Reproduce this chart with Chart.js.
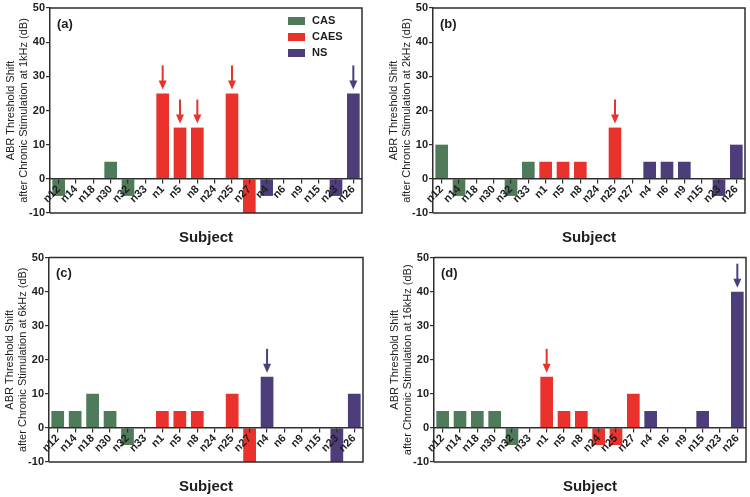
<!DOCTYPE html>
<html lang="en">
<head>
<meta charset="UTF-8">
<title>ABR Threshold Shift after Chronic Stimulation</title>
<script src="https://cdn.jsdelivr.net/npm/chart.js"></script>
<style>
    body { margin: 0; background: #fff; }
    .wrap { position: relative; width: 750px; height: 497px; }
    canvas { position: absolute; }
</style>
</head>
<body>
<div class="wrap">
    <canvas id="panelA" width="375" height="250" style="left:0;top:0"></canvas>
    <canvas id="panelB" width="375" height="250" style="left:375px;top:0"></canvas>
    <canvas id="panelC" width="375" height="247" style="left:0;top:250px"></canvas>
    <canvas id="panelD" width="375" height="247" style="left:375px;top:250px"></canvas>
</div>

<script>
// subjects and their group
const subjects = ['n12', 'n14', 'n18', 'n30', 'n32', 'n33', 'n1', 'n5', 'n8', 'n24', 'n25', 'n27', 'n4', 'n6', 'n9', 'n15', 'n23', 'n26'];
const groups = ['CAS', 'CAS', 'CAS', 'CAS', 'CAS', 'CAS', 'CAES', 'CAES', 'CAES', 'CAES', 'CAES', 'CAES', 'NS', 'NS', 'NS', 'NS', 'NS', 'NS'];
const groupNames = ['CAS', 'CAES', 'NS'];

// threshold shift (dB) per frequency
const shift1k = [-5, 0, 0, 5, -5, 0, 25, 15, 15, 0, 25, -10, -5, 0, 0, 0, -5, 25];
const shift2k = [10, -5, 0, 0, -5, 5, 5, 5, 5, 0, 15, 0, 5, 5, 5, 0, -5, 10];
const shift6k = [5, 5, 10, 5, -5, 0, 5, 5, 5, 0, 10, -10, 15, 0, 0, 0, -10, 10];
const shift16k = [5, 5, 5, 5, -5, 0, 15, 5, 5, -5, -5, 10, 5, 0, 0, 5, 0, 40];

// subjects marked with an arrow
const arrows1k = ['n1', 'n5', 'n8', 'n25', 'n26'];
const arrows2k = ['n25'];
const arrows6k = ['n4'];
const arrows16k = ['n1', 'n26'];

// y axis
const yMin = -10;
const yMax = 50;
const yStep = 10;

const colors = { CAS: '#4f7b5a', CAES: '#e8322b', NS: '#4e3d7b' };
const axisColor = '#2e2e2e';
const textColor = '#1e1e1e';
const fontFamily = "Arial, 'Liberation Sans', sans-serif";

// frame around the plot area
const framePlugin = {
    id: 'frame',
    afterDraw(chart) {
        const a = chart.chartArea, ctx = chart.ctx;
        ctx.save();
        ctx.strokeStyle = axisColor;
        ctx.lineWidth = 1.5;
        ctx.beginPath();
        ctx.moveTo(a.left, a.top);
        ctx.lineTo(a.right, a.top);
        ctx.lineTo(a.right, a.bottom);
        ctx.lineTo(a.left, a.bottom);
        ctx.stroke();
        ctx.restore();
    }
};

// arrows, panel letter, legend and "Subject"
const extrasPlugin = {
    id: 'extras',
    afterDatasetsDraw(chart, args, opts) {
        const a = chart.chartArea, ctx = chart.ctx;
        const bars = chart.getDatasetMeta(0).data;
        ctx.save();
        opts.arrows.forEach(name => {
            const i = subjects.indexOf(name);
            const bar = bars[i];
            const c = colors[groups[i]];
            const tip = bar.y - 4;
            ctx.strokeStyle = c;
            ctx.fillStyle = c;
            ctx.lineWidth = 2;
            ctx.beginPath();
            ctx.moveTo(bar.x, tip - 24);
            ctx.lineTo(bar.x, tip - 6);
            ctx.stroke();
            ctx.beginPath();
            ctx.moveTo(bar.x - 4, tip - 9);
            ctx.lineTo(bar.x + 4, tip - 9);
            ctx.lineTo(bar.x, tip);
            ctx.closePath();
            ctx.fill();
        });

        ctx.fillStyle = textColor;
        ctx.font = 'bold 13px ' + fontFamily;
        ctx.textAlign = 'left';
        ctx.textBaseline = 'middle';
        ctx.fillText(opts.letter, a.left + 7, a.top + 16);

        if (opts.legend) {
            groupNames.forEach((g, k) => {
                const y = a.top + 13 + k * 16;
                ctx.fillStyle = colors[g];
                ctx.fillRect(a.right - 74, y - 4, 17, 8);
                ctx.fillStyle = textColor;
                ctx.font = 'bold 11px ' + fontFamily;
                ctx.fillText(g, a.right - 50, y);
            });
        }

        ctx.font = 'bold 15px ' + fontFamily;
        ctx.textAlign = 'center';
        ctx.fillText('Subject', (a.left + a.right) / 2, a.bottom + 25);
        ctx.restore();
    }
};

function makePanel(id, letter, freq, values, arrows, box, legend) {
    new Chart(document.getElementById(id), {
        type: 'bar',
        data: {
            labels: subjects,
            datasets: [{
                data: values,
                backgroundColor: groups.map(g => colors[g]),
                borderWidth: 0,
                barPercentage: 0.73,
                categoryPercentage: 1
            }]
        },
        options: {
            responsive: false,
            animation: false,
            layout: { padding: { left: box.left - 50, right: box.right, top: box.top, bottom: box.bottom } },
            plugins: {
                legend: { display: false },
                tooltip: { enabled: false },
                extras: { letter: letter, arrows: arrows, legend: legend }
            },
            scales: {
                x: {
                    position: { y: 0 },
                    offset: true,
                    grid: { drawOnChartArea: false, offset: false, tickLength: 4, color: axisColor, lineWidth: 1.2, z: 1 },
                    border: { color: axisColor, width: 1.5, z: 1 },
                    ticks: {
                        autoSkip: false, minRotation: 45, maxRotation: 45, padding: 0, z: 1,
                        color: textColor, font: { family: fontFamily, size: 11, weight: 'bold' }
                    }
                },
                y: {
                    min: yMin,
                    max: yMax,
                    afterFit: s => { s.width = 50; },
                    grid: { drawOnChartArea: false, tickLength: 4, color: axisColor, lineWidth: 1.2 },
                    border: { color: axisColor, width: 1.5 },
                    ticks: {
                        stepSize: yStep, padding: 1,
                        color: textColor, font: { family: fontFamily, size: 11, weight: 'bold' }
                    },
                    title: {
                        display: true,
                        text: ['ABR Threshold Shift', 'after Chronic Stimulation at ' + freq + ' (dB)'],
                        color: textColor,
                        font: { family: fontFamily, size: 11, lineHeight: 1.2 },
                        padding: { top: 4, bottom: 0 }
                    }
                }
            }
        },
        plugins: [framePlugin, extrasPlugin]
    });
}

makePanel('panelA', '(a)', '1kHz', shift1k, arrows1k, { left: 50, right: 13, top: 8, bottom: 37 }, true);
makePanel('panelB', '(b)', '2kHz', shift2k, arrows2k, { left: 58, right: 5, top: 8, bottom: 37 }, false);
makePanel('panelC', '(c)', '6kHz', shift6k, arrows6k, { left: 49, right: 12, top: 5, bottom: 35 }, false);
makePanel('panelD', '(d)', '16kHz', shift16k, arrows16k, { left: 59, right: 4, top: 5, bottom: 35 }, false);
</script>
</body>
</html>
